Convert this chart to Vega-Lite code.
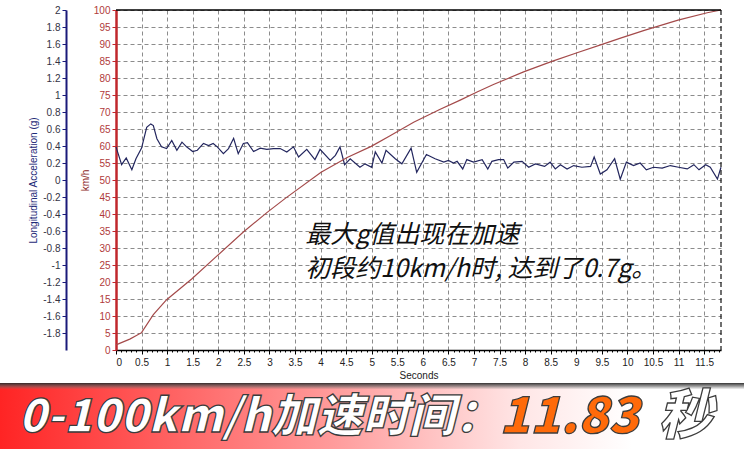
{
  "$schema": "https://vega.github.io/schema/vega-lite/v6.json",
  "width": 605,
  "height": 340,
  "autosize": {"type": "none"},
  "padding": {"left": 116, "top": 10, "right": 23, "bottom": 99},
  "background": "#ffffff",
  "config": {"font": "Liberation Sans", "view": {"stroke": null}},
  "datasets": {
    "accel": [
      {"t": 0.00, "g": 0.39}, {"t": 0.11, "g": 0.18}, {"t": 0.20, "g": 0.26}, {"t": 0.31, "g": 0.12},
      {"t": 0.39, "g": 0.25}, {"t": 0.50, "g": 0.375}, {"t": 0.60, "g": 0.62}, {"t": 0.68, "g": 0.66},
      {"t": 0.73, "g": 0.64}, {"t": 0.80, "g": 0.485}, {"t": 0.89, "g": 0.39}, {"t": 0.99, "g": 0.37},
      {"t": 1.09, "g": 0.465}, {"t": 1.19, "g": 0.35}, {"t": 1.29, "g": 0.445}, {"t": 1.38, "g": 0.39},
      {"t": 1.50, "g": 0.335}, {"t": 1.59, "g": 0.35}, {"t": 1.71, "g": 0.43}, {"t": 1.81, "g": 0.405},
      {"t": 1.90, "g": 0.43}, {"t": 1.98, "g": 0.39}, {"t": 2.10, "g": 0.31}, {"t": 2.20, "g": 0.37},
      {"t": 2.30, "g": 0.49}, {"t": 2.39, "g": 0.31}, {"t": 2.49, "g": 0.43}, {"t": 2.57, "g": 0.44},
      {"t": 2.69, "g": 0.335}, {"t": 2.82, "g": 0.375}, {"t": 2.95, "g": 0.36}, {"t": 3.08, "g": 0.37},
      {"t": 3.21, "g": 0.37}, {"t": 3.34, "g": 0.33}, {"t": 3.47, "g": 0.39}, {"t": 3.57, "g": 0.27},
      {"t": 3.73, "g": 0.36}, {"t": 3.89, "g": 0.24}, {"t": 3.99, "g": 0.36}, {"t": 4.19, "g": 0.23},
      {"t": 4.29, "g": 0.29}, {"t": 4.38, "g": 0.39}, {"t": 4.47, "g": 0.18}, {"t": 4.58, "g": 0.25},
      {"t": 4.77, "g": 0.15}, {"t": 4.87, "g": 0.19}, {"t": 5.00, "g": 0.15}, {"t": 5.07, "g": 0.33},
      {"t": 5.20, "g": 0.20}, {"t": 5.28, "g": 0.35}, {"t": 5.46, "g": 0.25}, {"t": 5.59, "g": 0.19},
      {"t": 5.77, "g": 0.375}, {"t": 5.88, "g": 0.09}, {"t": 6.07, "g": 0.30}, {"t": 6.24, "g": 0.25},
      {"t": 6.41, "g": 0.21}, {"t": 6.50, "g": 0.23}, {"t": 6.60, "g": 0.20}, {"t": 6.67, "g": 0.22},
      {"t": 6.78, "g": 0.13}, {"t": 6.86, "g": 0.24}, {"t": 6.99, "g": 0.21}, {"t": 7.16, "g": 0.24},
      {"t": 7.27, "g": 0.13}, {"t": 7.35, "g": 0.22}, {"t": 7.48, "g": 0.24}, {"t": 7.58, "g": 0.24},
      {"t": 7.66, "g": 0.14}, {"t": 7.78, "g": 0.21}, {"t": 7.94, "g": 0.22}, {"t": 8.07, "g": 0.15},
      {"t": 8.20, "g": 0.19}, {"t": 8.38, "g": 0.16}, {"t": 8.49, "g": 0.21}, {"t": 8.59, "g": 0.13},
      {"t": 8.69, "g": 0.18}, {"t": 8.82, "g": 0.13}, {"t": 8.95, "g": 0.17}, {"t": 9.11, "g": 0.15},
      {"t": 9.28, "g": 0.16}, {"t": 9.35, "g": 0.27}, {"t": 9.47, "g": 0.07}, {"t": 9.60, "g": 0.12},
      {"t": 9.75, "g": 0.25}, {"t": 9.86, "g": 0.01}, {"t": 9.98, "g": 0.21}, {"t": 10.12, "g": 0.17},
      {"t": 10.25, "g": 0.20}, {"t": 10.37, "g": 0.12}, {"t": 10.51, "g": 0.15}, {"t": 10.68, "g": 0.14},
      {"t": 10.84, "g": 0.17}, {"t": 11.00, "g": 0.15}, {"t": 11.17, "g": 0.13}, {"t": 11.30, "g": 0.18},
      {"t": 11.40, "g": 0.12}, {"t": 11.53, "g": 0.18}, {"t": 11.62, "g": 0.15}, {"t": 11.76, "g": 0.01},
      {"t": 11.83, "g": 0.15}
    ],
    "speed": [
      {"t": 0.00, "kmh": 1.5}, {"t": 0.27, "kmh": 3.2}, {"t": 0.50, "kmh": 5.1}, {"t": 0.73, "kmh": 10.4},
      {"t": 0.99, "kmh": 14.8}, {"t": 1.48, "kmh": 20.9}, {"t": 1.97, "kmh": 27.6}, {"t": 2.49, "kmh": 34.7},
      {"t": 2.95, "kmh": 40.4}, {"t": 3.31, "kmh": 44.6}, {"t": 4.01, "kmh": 52.3}, {"t": 4.53, "kmh": 56.7},
      {"t": 4.99, "kmh": 59.9}, {"t": 5.36, "kmh": 63.0}, {"t": 5.82, "kmh": 67.0}, {"t": 6.34, "kmh": 70.8},
      {"t": 6.73, "kmh": 73.5}, {"t": 7.06, "kmh": 75.9}, {"t": 7.38, "kmh": 78.1}, {"t": 7.97, "kmh": 81.8},
      {"t": 8.51, "kmh": 84.8}, {"t": 9.03, "kmh": 87.5}, {"t": 9.49, "kmh": 89.8}, {"t": 9.88, "kmh": 91.8},
      {"t": 10.33, "kmh": 94.0}, {"t": 10.99, "kmh": 97.0}, {"t": 11.56, "kmh": 99.2}, {"t": 11.83, "kmh": 100}
    ],
    "target": [{"kmh": 100}],
    "cursor": [{"t": 11.83}],
    "note": [
      {"t": 3.7, "kmh": 33.7, "text": "最大g值出现在加速"},
      {"t": 3.7, "kmh": 23.8, "text": "初段约10km/h时, 达到了0.7g。"}
    ],
    "band": [{"name": "banner"}],
    "banner": [
      {"part": "label", "text": "0-100km/h加速时间：", "pos": 0.349},
      {"part": "value", "text": "11.83", "pos": 0.765},
      {"part": "unit", "text": "秒", "pos": 0.921}
    ]
  },
  "layer": [
    {
      "data": {"name": "accel"},
      "mark": {"type": "line", "color": "#23265e", "strokeWidth": 1.2},
      "encoding": {
        "x": {
          "field": "t", "type": "quantitative",
          "scale": {"domain": [0, 11.83], "nice": false, "zero": false},
          "axis": {
            "orient": "bottom",
            "values": [0, 0.5, 1, 1.5, 2, 2.5, 3, 3.5, 4, 4.5, 5, 5.5, 6, 6.5, 7, 7.5, 8, 8.5, 9, 9.5, 10, 10.5, 11, 11.5],
            "labelExpr": "'' + datum.value",
            "title": "Seconds", "titleFontSize": 10, "titleFontWeight": "normal", "titleColor": "#222222", "titlePadding": 3,
            "labelFontSize": 10, "labelColor": "#222222", "labelPadding": 3,
            "domainColor": "#000000", "domainWidth": 1.5, "tickColor": "#000000", "tickSize": 4,
            "grid": true, "gridColor": "#8c8c8c", "gridDash": [4, 3], "gridWidth": 1
          }
        },
        "y": {
          "field": "g", "type": "quantitative",
          "scale": {"domain": [-2, 2], "nice": false, "zero": false},
          "axis": {
            "orient": "left", "offset": 50,
            "values": [2, 1.8, 1.6, 1.4, 1.2, 1, 0.8, 0.6, 0.4, 0.2, 0, -0.2, -0.4, -0.6, -0.8, -1, -1.2, -1.4, -1.6, -1.8],
            "labelExpr": "'' + datum.value",
            "title": "Longitudinal Acceleration (g)", "titleFontSize": 10, "titleFontWeight": "normal", "titleColor": "#1e2a78", "titlePadding": 4,
            "labelFontSize": 10, "labelColor": "#333344", "labelPadding": 2,
            "domainColor": "#1a1a7a", "domainWidth": 2, "tickColor": "#1a1a7a", "tickSize": 4,
            "grid": false
          }
        }
      }
    },
    {
      "data": {"name": "speed"},
      "mark": {"type": "line", "color": "#a44a4a", "strokeWidth": 1.2},
      "encoding": {
        "x": {
          "field": "t", "type": "quantitative",
          "scale": {"domain": [0, 11.83], "nice": false, "zero": false},
          "axis": {"orient": "bottom", "tickCount": 118, "labels": false, "domain": false, "grid": false, "tickSize": 2, "tickColor": "#000000", "title": null}
        },
        "y": {
          "field": "kmh", "type": "quantitative",
          "scale": {"domain": [0, 100], "nice": false, "zero": false},
          "axis": {
            "orient": "left", "offset": 0,
            "values": [0, 5, 10, 15, 20, 25, 30, 35, 40, 45, 50, 55, 60, 65, 70, 75, 80, 85, 90, 95, 100],
            "title": "km/h", "titleFontSize": 10, "titleFontWeight": "normal", "titleColor": "#8b1c1c", "titlePadding": 3,
            "labelFontSize": 10, "labelColor": "#b03a3a", "labelPadding": 2,
            "domainColor": "#c0272d", "domainWidth": 2.5, "tickColor": "#c0272d", "tickSize": 4,
            "grid": true, "gridColor": "#8c8c8c", "gridDash": [4, 3], "gridWidth": 1
          }
        }
      }
    },
    {
      "data": {"name": "target"},
      "mark": {"type": "rule", "color": "#000000", "strokeWidth": 1.5},
      "encoding": {
        "y": {"field": "kmh", "type": "quantitative", "scale": {"domain": [0, 100], "nice": false, "zero": false}, "axis": null}
      }
    },
    {
      "data": {"name": "cursor"},
      "mark": {"type": "rule", "color": "#111111", "strokeWidth": 1.2, "strokeDash": [5, 3]},
      "encoding": {
        "x": {"field": "t", "type": "quantitative", "scale": {"domain": [0, 11.83], "nice": false, "zero": false}, "axis": null}
      }
    },
    {
      "data": {"name": "note"},
      "mark": {"type": "text", "font": "Noto Sans CJK SC", "fontSize": 25, "fontStyle": "italic", "align": "left", "baseline": "middle", "fill": "#111111"},
      "encoding": {
        "x": {"field": "t", "type": "quantitative", "scale": {"domain": [0, 11.83], "nice": false, "zero": false}, "axis": null},
        "y": {"field": "kmh", "type": "quantitative", "scale": {"domain": [0, 100], "nice": false, "zero": false}, "axis": null},
        "text": {"field": "text"}
      }
    },
    {
      "data": {"name": "band"},
      "mark": {
        "type": "rect", "clip": false,
        "fill": {"gradient": "linear", "x1": 0, "y1": 0, "x2": 1, "y2": 0,
          "stops": [
            {"offset": 0, "color": "#ff2424"},
            {"offset": 0.2, "color": "#ff5a5a"},
            {"offset": 0.45, "color": "#ff9c9c"},
            {"offset": 0.7, "color": "#ffe6e6"},
            {"offset": 0.85, "color": "#ffffff"},
            {"offset": 1, "color": "#ffffff"}
          ]}
      },
      "encoding": {
        "x": {"datum": 0, "type": "quantitative", "scale": {"domain": [0, 1], "range": [-116, 628], "nice": false, "zero": false}, "axis": null},
        "x2": {"datum": 1},
        "y": {"datum": 0, "type": "quantitative", "scale": {"domain": [0, 1], "range": [439, 373], "nice": false, "zero": false}, "axis": null},
        "y2": {"datum": 1}
      }
    },
    {
      "data": {"name": "band"},
      "mark": {
        "type": "rect", "clip": false,
        "fill": {"gradient": "linear", "x1": 0, "y1": 0, "x2": 0, "y2": 1,
          "stops": [
            {"offset": 0, "color": "rgba(40,40,40,0.95)"},
            {"offset": 0.5, "color": "rgba(90,90,90,0.6)"},
            {"offset": 1, "color": "rgba(120,120,120,0)"}
          ]}
      },
      "encoding": {
        "x": {"datum": 0, "type": "quantitative", "scale": {"domain": [0, 1], "range": [-116, 628], "nice": false, "zero": false}, "axis": null},
        "x2": {"datum": 1},
        "y": {"datum": 0.9, "type": "quantitative", "scale": {"domain": [0, 1], "range": [439, 373], "nice": false, "zero": false}, "axis": null},
        "y2": {"datum": 1}
      }
    },
    {
      "data": {"name": "banner"},
      "mark": {"type": "text", "font": "Noto Sans CJK SC", "fontWeight": 900, "fontStyle": "italic", "align": "center", "baseline": "middle", "stroke": "#3c3c3c", "strokeWidth": 1.3},
      "encoding": {
        "x": {"field": "pos", "type": "quantitative", "scale": {"domain": [0, 1], "range": [-116, 628], "nice": false, "zero": false}, "axis": null},
        "y": {"datum": 0.47, "type": "quantitative", "scale": {"domain": [0, 1], "range": [439, 373], "nice": false, "zero": false}, "axis": null},
        "text": {"field": "text"},
        "size": {"field": "part", "type": "nominal", "scale": {"domain": ["label", "value", "unit"], "range": [46, 54, 46]}, "legend": null},
        "color": {"field": "part", "type": "nominal", "scale": {"domain": ["label", "value", "unit"], "range": ["#ffffff", "#ff6a0a", "#ffffff"]}, "legend": null}
      }
    }
  ],
  "resolve": {"scale": {"x": "independent", "y": "independent", "color": "independent", "size": "independent"}}
}
